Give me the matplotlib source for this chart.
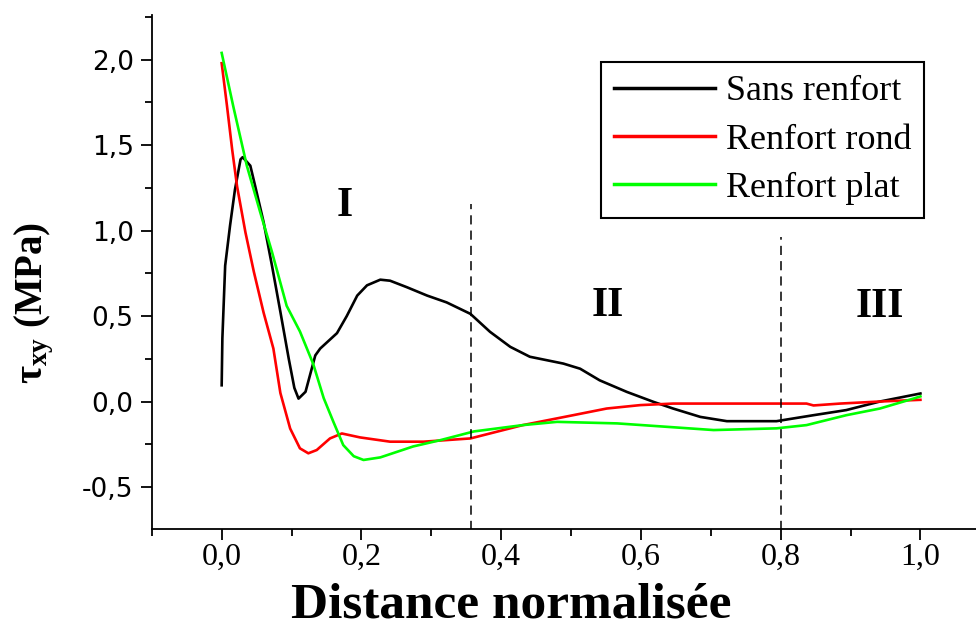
import matplotlib
matplotlib.use("Agg")
import matplotlib.pyplot as plt
from matplotlib.ticker import MultipleLocator, FuncFormatter

plt.rcParams['mathtext.fontset'] = 'custom'
plt.rcParams['mathtext.rm'] = 'Liberation Serif'
plt.rcParams['mathtext.bf'] = 'Liberation Serif:bold'
plt.rcParams['mathtext.it'] = 'Liberation Serif:italic'

# Shear stress along the normalised distance
x_sans = [0.0, 0.001, 0.005, 0.012, 0.019, 0.027, 0.030, 0.041, 0.048, 0.060,
          0.072, 0.084, 0.096, 0.104, 0.110, 0.120, 0.134, 0.141, 0.165, 0.179,
          0.194, 0.208, 0.227, 0.241, 0.265, 0.294, 0.322, 0.356, 0.384, 0.413,
          0.441, 0.489, 0.513, 0.541, 0.580, 0.618, 0.646, 0.685, 0.723, 0.794,
          0.847, 0.894, 0.942, 1.0]
y_sans = [0.095, 0.37, 0.795, 1.03, 1.24, 1.417, 1.43, 1.38, 1.26, 1.05,
          0.795, 0.525, 0.25, 0.08, 0.017, 0.057, 0.27, 0.31, 0.40, 0.50,
          0.62, 0.68, 0.713, 0.707, 0.669, 0.62, 0.58, 0.513, 0.408, 0.32,
          0.262, 0.222, 0.192, 0.124, 0.056, -0.002, -0.041, -0.09, -0.115, -0.115,
          -0.08, -0.05, 0.0, 0.047]

x_rond = [0.0, 0.0076, 0.015, 0.022, 0.034, 0.046, 0.060, 0.074, 0.084, 0.098,
          0.112, 0.124, 0.136, 0.155, 0.172, 0.198, 0.241, 0.289, 0.356, 0.431,
          0.503, 0.551, 0.599, 0.646, 0.700, 0.837, 0.847, 0.885, 0.942, 1.0]
y_rond = [1.98, 1.73, 1.475, 1.26, 0.99, 0.76, 0.52, 0.31, 0.05, -0.158,
          -0.274, -0.303, -0.284, -0.216, -0.187, -0.21, -0.235, -0.235, -0.216, -0.138,
          -0.08, -0.041, -0.021, -0.012, -0.012, -0.012, -0.023, -0.012, 0.0, 0.01]

x_plat = [0.0, 0.017, 0.036, 0.055, 0.072, 0.093, 0.112, 0.131, 0.146, 0.160,
          0.174, 0.189, 0.203, 0.227, 0.274, 0.313, 0.361, 0.431, 0.48, 0.566,
          0.637, 0.704, 0.794, 0.837, 0.894, 0.942, 0.99, 1.0]
y_plat = [2.04, 1.72, 1.38, 1.11, 0.875, 0.56, 0.41, 0.22, 0.02, -0.12,
          -0.255, -0.32, -0.342, -0.327, -0.263, -0.226, -0.175, -0.138, -0.119, -0.128,
          -0.148, -0.167, -0.157, -0.138, -0.08, -0.041, 0.017, 0.03]

series_labels = ["Sans renfort", "Renfort rond", "Renfort plat"]
series_colors = ["#000000", "#ff0000", "#00ff00"]

# Zone boundaries and zone names
zone_bounds = [0.357, 0.8]
zone_tops = [1.157, 0.964]
zone_names = ["I", "II", "III"]
zone_pos = [(0.176, 1.142), (0.552, 0.558), (0.942, 0.553)]

x_ticks = [0.0, 0.2, 0.4, 0.6, 0.8, 1.0]
y_ticks = [-0.5, 0.0, 0.5, 1.0, 1.5, 2.0]

fig = plt.figure(figsize=(9.76, 6.31), dpi=100)
ax = fig.add_axes([151.8 / 976, 1 - 529 / 631, 1 - 151.8 / 976, (529 - 15.5) / 631])

for xs, ys, lab, col in zip([x_sans, x_rond, x_plat], [y_sans, y_rond, y_plat],
                            series_labels, series_colors):
    ax.plot(xs, ys, color=col, lw=1.9, label=lab, solid_joinstyle='round')

for xb, yt in zip(zone_bounds, zone_tops):
    ax.plot([xb, xb], [-0.75, yt], color='black', lw=1.1, ls=(0, (6, 4)))

for name, (xp, yp) in zip(zone_names, zone_pos):
    ax.text(xp, yp, name, ha='center', va='center', fontsize=30,
            fontfamily='Liberation Serif', fontweight='bold')

ax.set_xlim(-0.1, (976 - 221.4) / 699)
ax.set_ylim(-0.746, 2.259)

ax.spines['top'].set_visible(False)
ax.spines['right'].set_visible(False)
for s in ('left', 'bottom'):
    ax.spines[s].set_linewidth(1.3)

ax.set_xticks(x_ticks)
ax.set_yticks(y_ticks)
ax.xaxis.set_minor_locator(MultipleLocator(0.1))
ax.yaxis.set_minor_locator(MultipleLocator(0.25))
comma = FuncFormatter(lambda v, p: f"{v:.1f}".replace('.', ','))
ax.xaxis.set_major_formatter(comma)
ax.yaxis.set_major_formatter(comma)
ax.tick_params(which='major', direction='out', length=8, width=1.3)
ax.tick_params(which='minor', direction='out', length=5, width=1.3)
ax.tick_params(axis='x', pad=2)
ax.tick_params(axis='y', pad=5)
for t in ax.get_xticklabels():
    t.set_fontfamily('Liberation Serif')
    t.set_fontsize(23)
for t in ax.get_yticklabels():
    t.set_fontfamily('DejaVu Sans')
    t.set_fontsize(19)

leg = ax.legend(loc='upper left', bbox_to_anchor=(0.545, 0.909), frameon=True,
                fancybox=False, edgecolor='black', framealpha=1,
                prop={'family': 'Liberation Serif', 'size': 26},
                handlelength=2.8, handletextpad=0.3, borderpad=0.35,
                labelspacing=0.42, borderaxespad=0)
leg.get_frame().set_linewidth(1.5)
for h in leg.get_lines():
    h.set_linewidth(2.5)

fig.text(511 / 976, 1 - 606 / 631, "Distance normalisée", ha='center', va='center',
         fontsize=37, fontfamily='Liberation Serif', fontweight='bold')
fig.text(34 / 976, 1 - 303 / 631, r"τ$_{\mathbf{xy}}$ (MPa)", ha='center', va='center',
         rotation=90, fontsize=28, fontfamily='Liberation Serif', fontweight='bold')

fig.savefig("out.png", dpi=100)
